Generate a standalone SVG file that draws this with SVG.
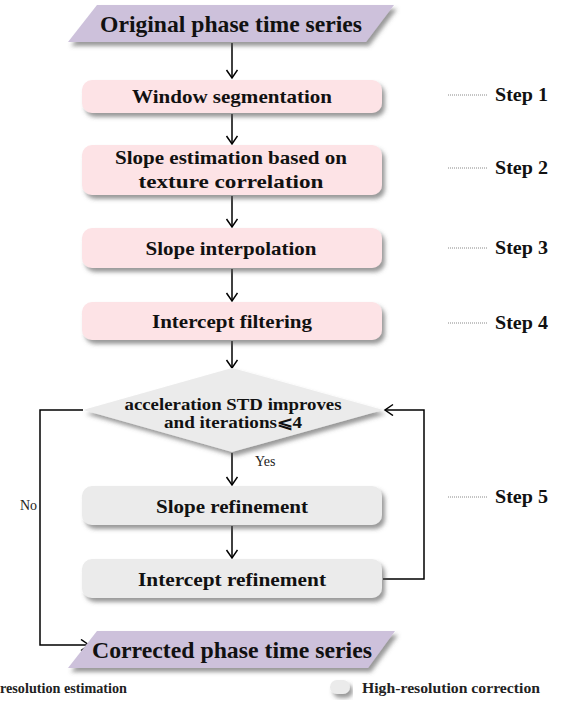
<svg xmlns="http://www.w3.org/2000/svg" width="565" height="707" viewBox="0 0 565 707">
<defs>
<filter id="sh" x="-10%" y="-20%" width="125%" height="160%">
<feDropShadow dx="3" dy="4" stdDeviation="2" flood-color="#555" flood-opacity="0.6"/>
</filter>
<marker id="ar" markerWidth="14" markerHeight="14" refX="9" refY="6" orient="auto" markerUnits="userSpaceOnUse">
<path d="M1,0.5 L9,6 L1,11.5" fill="none" stroke="#000" stroke-width="1.5"/>
</marker>
<style>
.para{fill:#cdc1db;filter:url(#sh)}
.pink{fill:#fde3e6;filter:url(#sh)}
.gray{fill:#ebebeb;filter:url(#sh)}
text{font-family:"Liberation Serif","Times New Roman","DejaVu Serif",serif}
.t{font-weight:bold;fill:#111;text-anchor:middle}
.n{fill:#222}
.step{font-weight:bold;font-size:19px;fill:#111}
.dot{stroke:#888;stroke-width:1;stroke-dasharray:1 1}
.c{fill:none;stroke:#000;stroke-width:1.5;marker-end:url(#ar)}
</style>
</defs>
<rect width="565" height="707" fill="#fff"/>

<g id="connectors">
<line class="c" x1="232" y1="43" x2="232" y2="78"/>
<line class="c" x1="232" y1="114" x2="232" y2="144"/>
<line class="c" x1="232" y1="196" x2="232" y2="227"/>
<line class="c" x1="232" y1="269" x2="232" y2="301"/>
<line class="c" x1="232" y1="341" x2="232" y2="368"/>
<line class="c" x1="232" y1="453" x2="232" y2="485"/>
<line class="c" x1="232" y1="526" x2="232" y2="558"/>
<path class="c" d="M383,579 H424 V410 H385"/>
<path class="c" d="M83,410 H40 V645 H89"/>
</g>

<g id="original">
<polygon class="para" points="97,5 394,5 366,42 68,42"/>
<text class="t" x="231" y="32" font-size="23" textLength="262" lengthAdjust="spacingAndGlyphs">Original phase time series</text>
</g>

<g id="window">
<rect class="pink" x="82" y="80" width="300" height="33" rx="10"/>
<text class="t" x="232" y="103" font-size="19" textLength="200" lengthAdjust="spacingAndGlyphs">Window segmentation</text>
</g>

<g id="slope-est">
<rect class="pink" x="82" y="145" width="300" height="50" rx="10"/>
<text class="t" x="231" y="164" font-size="19" textLength="232" lengthAdjust="spacingAndGlyphs">Slope estimation based on</text>
<text class="t" x="231" y="188" font-size="19" textLength="185" lengthAdjust="spacingAndGlyphs">texture correlation</text>
</g>

<g id="slope-interp">
<rect class="pink" x="82" y="228" width="300" height="40" rx="10"/>
<text class="t" x="231" y="255" font-size="19" textLength="171" lengthAdjust="spacingAndGlyphs">Slope interpolation</text>
</g>

<g id="intercept-filter">
<rect class="pink" x="82" y="302" width="300" height="38" rx="10"/>
<text class="t" x="232" y="328" font-size="19" textLength="160" lengthAdjust="spacingAndGlyphs">Intercept filtering</text>
</g>

<g id="decision">
<polygon class="gray" points="232,368 383,410 232,452 83,410"/>
<text class="t" x="233" y="410" font-size="16" textLength="217" lengthAdjust="spacingAndGlyphs">acceleration  STD improves</text>
<text class="t" x="233" y="428" font-size="16" textLength="138" lengthAdjust="spacingAndGlyphs">and iterations⩽4</text>
</g>

<g id="slope-ref">
<rect class="gray" x="82" y="486" width="300" height="39" rx="10"/>
<text class="t" x="232" y="513" font-size="19" textLength="152" lengthAdjust="spacingAndGlyphs">Slope refinement</text>
</g>

<g id="intercept-ref">
<rect class="gray" x="82" y="559" width="300" height="39" rx="10"/>
<text class="t" x="232" y="586" font-size="19" textLength="188" lengthAdjust="spacingAndGlyphs">Intercept refinement</text>
</g>

<g id="corrected">
<polygon class="para" points="97,631 395,631 368,668 68,668"/>
<text class="t" x="232" y="658" font-size="23" textLength="280" lengthAdjust="spacingAndGlyphs">Corrected phase time series</text>
</g>

<g id="labels">
<text class="n" x="255" y="466" font-size="14">Yes</text>
<text class="n" x="20" y="510" font-size="14">No</text>
</g>

<g id="steps">
<line class="dot" x1="448" y1="95" x2="488" y2="95"/>
<text class="step" x="495" y="101" textLength="53" lengthAdjust="spacingAndGlyphs">Step 1</text>
<line class="dot" x1="448" y1="168" x2="488" y2="168"/>
<text class="step" x="495" y="174" textLength="53" lengthAdjust="spacingAndGlyphs">Step 2</text>
<line class="dot" x1="448" y1="248" x2="488" y2="248"/>
<text class="step" x="495" y="254" textLength="53" lengthAdjust="spacingAndGlyphs">Step 3</text>
<line class="dot" x1="448" y1="323" x2="488" y2="323"/>
<text class="step" x="495" y="329" textLength="53" lengthAdjust="spacingAndGlyphs">Step 4</text>
<line class="dot" x1="448" y1="497" x2="488" y2="497"/>
<text class="step" x="495" y="503" textLength="53" lengthAdjust="spacingAndGlyphs">Step 5</text>
</g>

<g id="legend">
<text class="n" x="0" y="693" font-size="14" font-weight="bold" textLength="127" lengthAdjust="spacingAndGlyphs">resolution estimation</text>
<rect class="gray" x="330" y="680" width="20" height="14" rx="7"/>
<text class="n" x="362" y="693" font-size="15" font-weight="bold" textLength="178" lengthAdjust="spacingAndGlyphs">High-resolution correction</text>
</g>
</svg>
